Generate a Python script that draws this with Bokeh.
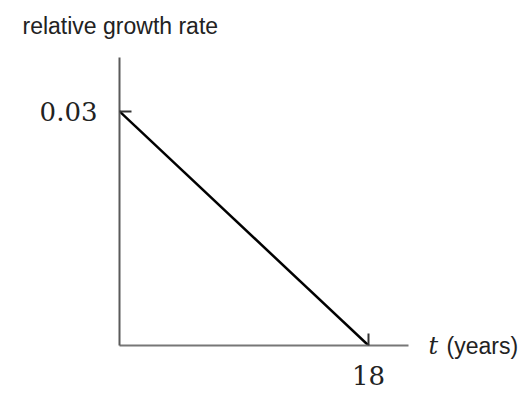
from bokeh.plotting import figure
from bokeh.models import Range1d, FixedTicker, LinearAxis, Title
from bokeh.embed import file_html
from bokeh.resources import INLINE

# data
t_years = [0, 18]
growth_rate = [0.03, 0.0]
x_ticks = [18]
y_ticks = [0.03]
y_title = "relative growth rate"
x_title_var = "t"
x_title_unit = "(years)"

X_END = 20.89
Y_END = 0.0369

p = figure(frame_width=289, frame_height=288,
           x_range=Range1d(0, X_END), y_range=Range1d(0, Y_END),
           output_backend="svg", toolbar_location=None,
           min_border_left=119, min_border_right=20,
           min_border_top=57, min_border_bottom=45,
           x_axis_location=None, y_axis_location=None)
p.outline_line_color = None
p.xgrid.visible = False
p.ygrid.visible = False

yax = LinearAxis(ticker=FixedTicker(ticks=y_ticks))
xax = LinearAxis(ticker=FixedTicker(ticks=x_ticks))
for ax in (xax, yax):
    ax.axis_line_color = "#5a5a5a"
    ax.axis_line_width = 2
    ax.major_tick_in = 12
    ax.major_tick_out = 0
    ax.major_tick_line_color = "#333333"
    ax.major_tick_line_width = 2
    ax.minor_tick_line_color = None
    ax.major_label_text_font = "DejaVu Serif"
    ax.major_label_text_font_size = "26px"
    ax.major_label_text_color = "#222222"
xax.axis_line_color = "#777777"
yax.major_label_standoff = 22
xax.major_label_standoff = 20
p.add_layout(yax, "left")
p.add_layout(xax, "below")

# x-axis title to the right of the axis end: two label-only axes
for txt, font, style, size, standoff in ((x_title_var, "DejaVu Serif", "italic", "24px", 20),
                                        (x_title_unit, "Liberation Sans", "normal", "23px", 5)):
    rax = LinearAxis(ticker=FixedTicker(ticks=[]), axis_label=txt)
    rax.axis_line_color = None
    rax.major_tick_line_color = None
    rax.minor_tick_line_color = None
    rax.major_label_text_font_size = "0px"
    rax.major_label_standoff = 0
    rax.axis_label_orientation = "horizontal"
    rax.axis_label_align = "start"
    rax.axis_label_standoff = standoff
    rax.axis_label_text_font = font
    rax.axis_label_text_font_style = style
    rax.axis_label_text_font_size = size
    rax.axis_label_text_color = "#222222"
    p.add_layout(rax, "right")

p.line(t_years, growth_rate, line_color="black", line_width=2.5)

# spacer between the frame and the y title (nearest to the frame first)
p.add_layout(Title(text=" ", text_font_size="2px", standoff=15), "above")
p.add_layout(Title(text=y_title, align="left", offset=-97, standoff=0,
                   text_font="Liberation Sans", text_font_style="normal",
                   text_font_size="23px", text_color="#222222"), "above")

open("out.html", "w").write(file_html(p, INLINE))
